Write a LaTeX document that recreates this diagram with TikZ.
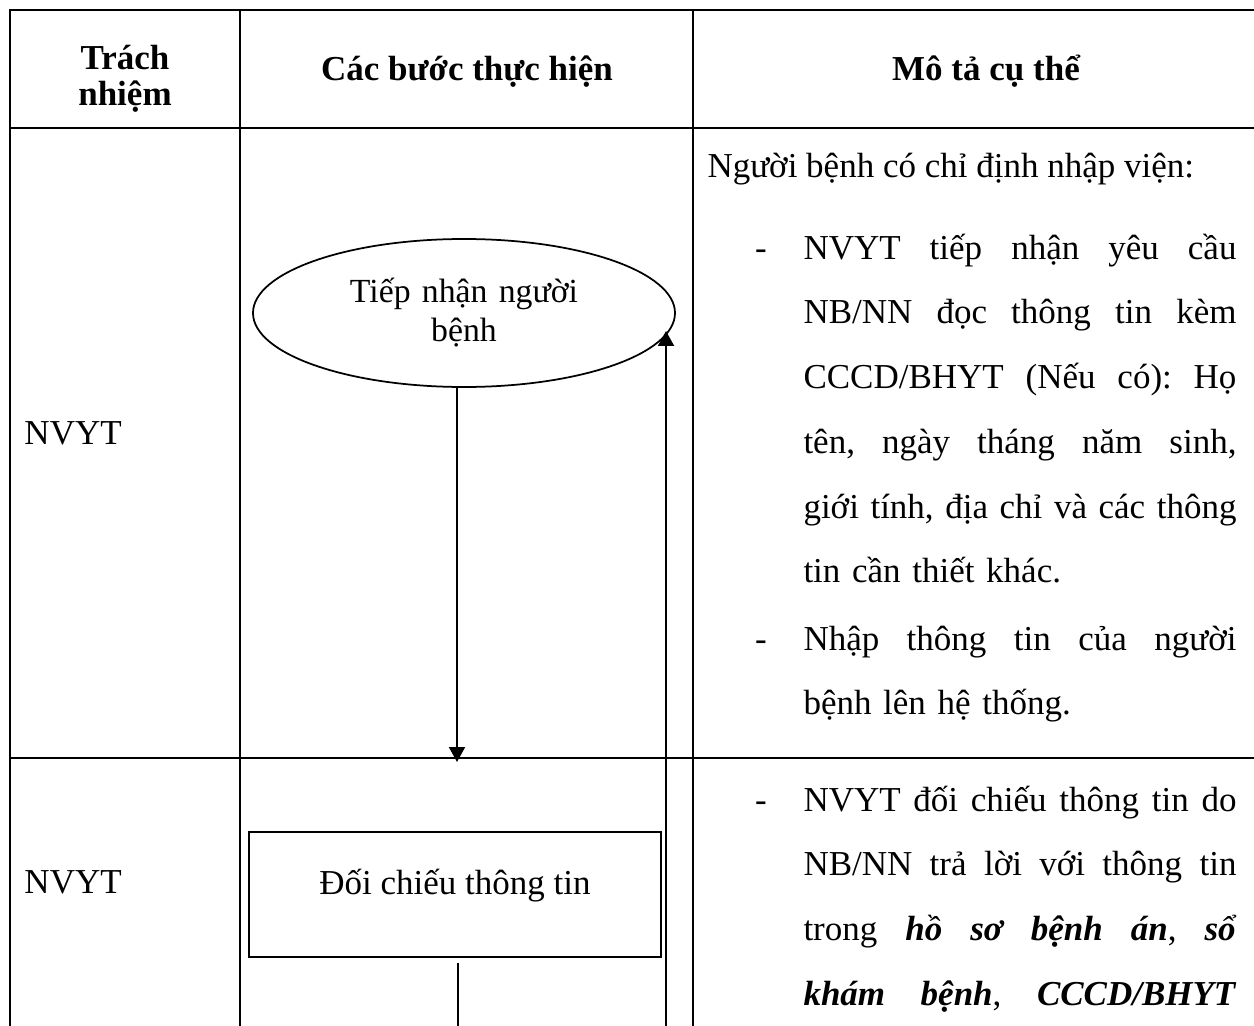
\documentclass[tikz,border=0pt]{standalone}
\usepackage{fontspec}
\setmainfont{Liberation Serif}
\usetikzlibrary{positioning, shapes.geometric, arrows.meta}
\tikzstyle{startstop} = [ellipse, draw=black, line width=0.7pt, minimum width=168.8pt, minimum height=59.2pt, inner sep=0pt, text width=110pt, align=center, font=\fontsize{13.5}{15.6}\selectfont]
\tikzstyle{process} = [rectangle, draw=black, line width=0.8pt, minimum width=164.8pt, minimum height=50pt, text height=13pt, text depth=13pt, font=\fontsize{14}{16}\selectfont]
\tikzstyle{arrow} = [line width=0.8pt, -{Triangle[length=6pt, width=6.4pt]}]
\tikzstyle{bang} = [line width=1.1pt]
\tikzstyle{cell} = [anchor=base west, inner sep=0pt, font=\fontsize{14}{25.9}\selectfont\frenchspacing]
\tikzstyle{para} = [cell, text width=173.2pt, align=left]
\tikzstyle{head} = [anchor=base, inner sep=0pt, font=\fontsize{14}{14.4}\selectfont\bfseries]
\newcommand{\dongdeu}[1]{\makebox[173.2pt][s]{\spaceskip=0pt\xspaceskip=0pt\relax #1}}

\begin{document}
\begin{tikzpicture}[x=0.4pt, y=-0.4pt]
    \useasboundingbox (0,0) rectangle (1254,1026);
    % khung bang
    \draw [bang] (1254,10) -- (10,10) -- (10,1026);
    \draw [bang] (240,10) -- (240,1026);
    \draw [bang] (693,10) -- (693,1026);
    \draw [bang] (10,128) -- (1254,128);
    \draw [bang] (10,758) -- (1254,758);

    % tieu de
    \node (trachnhiem) [head, text width=90pt, align=center] at (125,70) {Trách\\nhiệm};
    \node (cacbuoc) [head] at (467,81) {Các bước thực hiện};
    \node (mota) [head] at (986,81) {Mô tả cụ thể};

    % trach nhiem
    \node (nv1) [cell] at (24,444) {NVYT};
    \node (nv2) [cell] at (24,893) {NVYT};

    % cac buoc
    \node (tiepnhan) [startstop] at (464,313) {Tiếp nhận người\\bệnh};
    \node (doichieu) [process] at (455,894.5) {Đối chiếu thông tin};

    \coordinate (xuong1) at (457,762);
    \coordinate (len1) at (666,1026);
    \coordinate (xuong2) at (458,1026);
    \draw [arrow] (xuong1 |- tiepnhan.south) -- (xuong1);
    \draw [arrow] (len1) -- (len1 |- tiepnhan.-5);
    \draw [line width=0.8pt, shorten <=2pt] (xuong2 |- doichieu.south) -- (xuong2);

    % mo ta
    \node (gioithieu) [cell] at (707,178) {Người bệnh có chỉ định nhập viện:};
    \node (gach1) [cell, anchor=base] at (761,259) {-};
    \node (y1) [para] at (803,259) {\dongdeu{NVYT tiếp nhận yêu cầu}\\
        \dongdeu{NB/NN đọc thông tin kèm}\\
        \dongdeu{CCCD/BHYT (Nếu có): Họ}\\
        \dongdeu{tên, ngày tháng năm sinh,}\\
        \dongdeu{giới tính, địa chỉ và các thông}\\
        tin cần thiết khác.};
    \node (gach2) [cell, anchor=base] at (761,650) {-};
    \node (y2) [para] at (803,650) {\dongdeu{Nhập thông tin của người}\\
        bệnh lên hệ thống.};
    \node (gach3) [cell, anchor=base] at (761,811) {-};
    \node (y3) [para] at (803,811) {\dongdeu{NVYT đối chiếu thông tin do}\\
        \dongdeu{NB/NN trả lời với thông tin}\\
        \dongdeu{trong \textbf{\textit{hồ sơ bệnh án}}, \textbf{\textit{sổ}}}\\
        \dongdeu{\textbf{\textit{khám bệnh}}, \textbf{\textit{CCCD/BHYT}}}};
\end{tikzpicture}
\end{document}
